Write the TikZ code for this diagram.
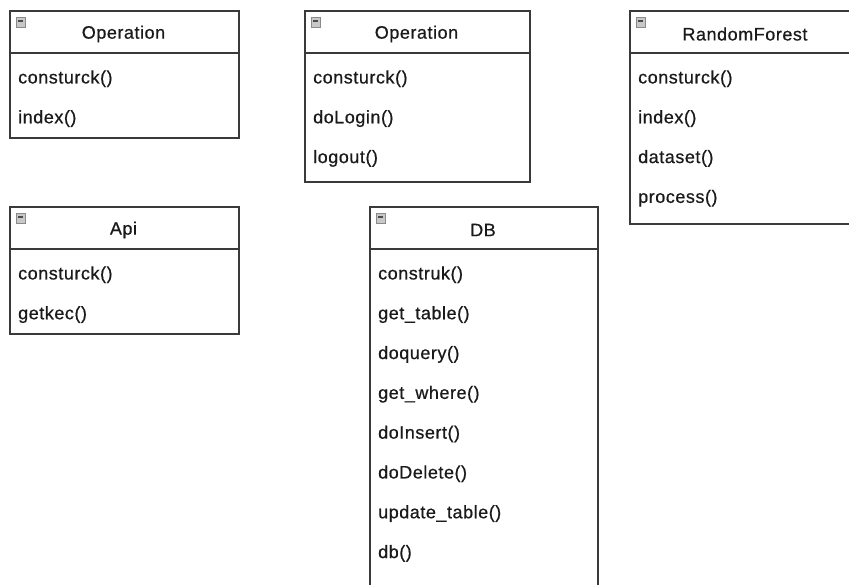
\documentclass[tikz,border=0pt]{standalone}
\usepackage{fontspec}
\setmainfont{Liberation Sans}[LetterSpace=3,FakeBold=0.6]
\definecolor{edge}{HTML}{3A3A3A}
\definecolor{ink}{HTML}{1A1A1A}
\definecolor{iconfill}{HTML}{C8C8C8}
\definecolor{iconedge}{HTML}{8A8A8A}
\tikzset{
  classbox/.style={draw=edge, line width=1.8pt, fill=white, inner sep=0pt, anchor=north west},
  sepline/.style={draw=edge, line width=1.8pt},
  titletext/.style={text=ink, font=\fontsize{18}{20}\selectfont, inner sep=0pt},
  rowtext/.style={text=ink, font=\fontsize{18}{20}\selectfont, inner sep=0pt, anchor=west},
  iconbox/.style={draw=iconedge, fill=iconfill, line width=0.9pt, minimum width=9pt, minimum height=10pt, inner sep=0pt,
    path picture={\draw[line width=1.6pt, draw=black!70] ([xshift=2pt,yshift=1pt]path picture bounding box.west) -- ([xshift=-2pt,yshift=1pt]path picture bounding box.east);}}
}
\newcommand\umlclass[7]{%
  \node[classbox, minimum width={(#4-#2)*1pt}, minimum height={(#5-#3)*1pt}] (#1) at (#2,#3) {};
  \coordinate (#1-sl) at (#2,#3+43);
  \coordinate (#1-sr) at (#4,#3+43);
  \draw[sepline] (#1-sl) -- (#1-sr);
  \node[iconbox] (#1-icon) at (#2+11.5,#3+12) {};
  \node[titletext] (#1-title) at ({(#2+#4)/2},#3+24) {#6};
  \foreach \t [count=\i] in {#7} {
    \node[rowtext] (#1-r\i) at (#2+9,#3+29+39.8*\i) {\t};
  }
}
\begin{document}
\begin{tikzpicture}[x=1pt,y=-1pt]
\useasboundingbox (0,0) rectangle (849,585);
\clip (0,0) rectangle (849,585);
\fill[white] (0,0) rectangle (849,585);
\umlclass{op1}{9}{10}{238}{137}{Operation}{consturck(),index()}
\umlclass{op2}{304}{10}{529}{181}{Operation}{consturck(),doLogin(),logout()}
\umlclass{rf}{629}{10}{861}{223}{RandomForest}{consturck(),index(),dataset(),process()}
\umlclass{api}{9}{206}{238}{333}{Api}{consturck(),getkec()}
\umlclass{db}{369}{206}{597}{610}{DB}{construk(),get\_table(),doquery(),get\_where(),doInsert(),doDelete(),update\_table(),db()}
\end{tikzpicture}
\end{document}
